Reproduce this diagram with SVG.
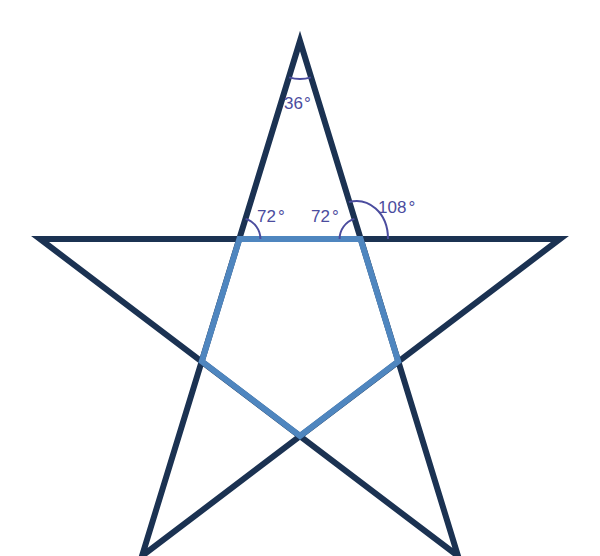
<svg xmlns="http://www.w3.org/2000/svg" width="600" height="556" viewBox="0 0 600 556">
<style>
.star{fill:none;stroke:#1b3252;stroke-width:6;stroke-linejoin:miter;stroke-miterlimit:10}
.pent{fill:none;stroke:#4f86bf;stroke-width:6;stroke-linejoin:miter}
.arc{fill:none;stroke:#4b4c9e;stroke-width:2}
.lbl{font-family:"Liberation Sans","Noto Sans",sans-serif;font-size:17px;fill:#4b4c9e}
</style>
<rect width="600" height="556" fill="#ffffff"/>
<g id="star">
<path class="star" d="M300,41 L142,556 L560,239 L40,239 L458,556 Z"/>
</g>
<g id="pentagon">
<path class="pent" d="M239.4,239 L360.6,239 L398.2,361.3 L300,435.9 L201.8,361.3 Z"/>
</g>
<g id="angles">
<path class="arc" d="M289.1,77.4 A37,37 0 0 0 310.9,77.4"/>
<path class="arc" d="M245.6,218.9 A21,21 0 0 1 260.4,239"/>
<path class="arc" d="M339.6,239 A21,21 0 0 1 354.4,218.9"/>
<path class="arc" d="M349,202 C368,197 388,212 388,239"/>
</g>
<g id="labels">
<text class="lbl" x="284" y="109">36<tspan dx="1">°</tspan></text>
<text class="lbl" x="257" y="222">72<tspan dx="2">°</tspan></text>
<text class="lbl" x="311" y="222">72<tspan dx="2">°</tspan></text>
<text class="lbl" x="378" y="213">108<tspan dx="2">°</tspan></text>
</g>
</svg>
